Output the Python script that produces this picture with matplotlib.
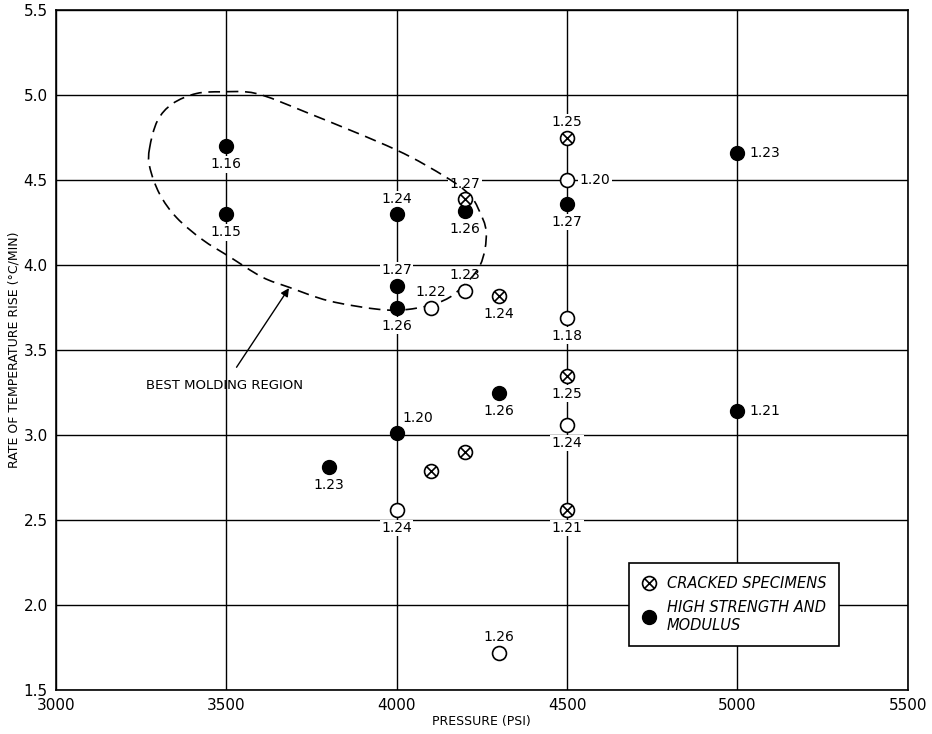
import numpy as np
import matplotlib
matplotlib.use('Agg')
import matplotlib.pyplot as plt
from matplotlib.path import Path
from matplotlib.patches import PathPatch
from matplotlib.lines import Line2D

# cracked specimens (circle with x)
cracked_x = [4200, 4300, 4500, 4500, 4500, 4100, 4200]
cracked_y = [4.39, 3.82, 4.75, 3.35, 2.56, 2.79, 2.90]
cracked_lab = ['1.27', '1.24', '1.25', '1.25', '1.21', '', '']
cracked_pos = ['above', 'below', 'above', 'below', 'below', '', '']

# high strength and modulus (filled circle)
filled_x = [3500, 3500, 4000, 4000, 4000, 4200, 4500, 5000, 5000, 4300, 4000, 3800]
filled_y = [4.70, 4.30, 4.30, 3.88, 3.75, 4.32, 4.36, 4.66, 3.14, 3.25, 3.01, 2.81]
filled_lab = ['1.16', '1.15', '1.24', '1.27', '1.26', '1.26', '1.27', '1.23', '1.21', '1.26', '1.20', '1.23']
filled_pos = ['below', 'below', 'above', 'above', 'below', 'below', 'below', 'right', 'right', 'below', 'upright', 'below']

# other specimens (open circle)
open_x = [4100, 4200, 4500, 4500, 4500, 4000, 4300]
open_y = [3.75, 3.85, 4.50, 3.69, 3.06, 2.56, 1.72]
open_lab = ['1.22', '1.23', '1.20', '1.18', '1.24', '1.24', '1.26']
open_pos = ['above', 'above', 'right', 'below', 'below', 'below', 'above']

# outline of the best molding region
region_x = [3275, 3275, 3304, 3354, 3430, 3509, 3605, 3684, 3801, 3947, 4035,
            4123, 4181, 4245, 4263, 4240, 4211, 4143, 3997, 3734, 3588, 3488,
            3412, 3342, 3298]
region_y = [4.69, 4.58, 4.42, 4.28, 4.15, 4.05, 3.93, 3.87, 3.79, 3.74, 3.74,
            3.78, 3.85, 4.00, 4.19, 4.33, 4.42, 4.52, 4.68, 4.90, 5.01, 5.02,
            5.01, 4.95, 4.85]

x_ticks = [3000, 3500, 4000, 4500, 5000, 5500]
y_ticks = [1.5, 2.0, 2.5, 3.0, 3.5, 4.0, 4.5, 5.0, 5.5]

# marker: circle with an x inside
circ = Path.unit_circle()
d = 0.62
xpath = Path([(-d, -d), (d, d), (-d, d), (d, -d)],
             [Path.MOVETO, Path.LINETO, Path.MOVETO, Path.LINETO])
cross_circle = Path.make_compound_path(circ, xpath)

offsets = {'above': ((0, 11), 'center'), 'below': ((0, -13), 'center'),
           'right': ((9, 0), 'left'), 'upright': ((15, 11), 'center')}

fig = plt.figure(figsize=(9.32, 7.34), dpi=100)
ax = fig.add_axes([0.060, 0.060, 0.914, 0.926])
ax.set_xlim(3000, 5500)
ax.set_ylim(1.5, 5.5)
ax.set_xticks(x_ticks)
ax.set_yticks(y_ticks)
ax.set_xticklabels([str(t) for t in x_ticks])
ax.set_yticklabels(['%.1f' % t for t in y_ticks])
ax.tick_params(length=0, labelsize=11, pad=6)
ax.grid(True, color='black', linewidth=1.0)
ax.set_axisbelow(True)
for s in ax.spines.values():
    s.set_linewidth(1.2)

ax.set_xlabel('PRESSURE (PSI)', fontsize=9, labelpad=1)
ax.set_ylabel('RATE OF TEMPERATURE RISE (°C/MIN)', fontsize=9, labelpad=2)

ax.plot(open_x, open_y, 'o', ms=10, mfc='white', mec='black', mew=1.2, zorder=4)
ax.plot(filled_x, filled_y, 'o', ms=10, mfc='black', mec='black', zorder=4)
ax.plot(cracked_x, cracked_y, ls='none', marker=cross_circle, ms=10, mfc='white',
        mec='black', mew=1.2, zorder=4)


def label(xs, ys, labs, poss):
    for x, y, t, p in zip(xs, ys, labs, poss):
        if t == '':
            continue
        off, ha = offsets[p]
        ax.annotate(t, (x, y), xytext=off, textcoords='offset points', ha=ha,
                    va='center', fontsize=10, zorder=3,
                    bbox=dict(boxstyle='square,pad=0.1', fc='white', ec='none'))


label(cracked_x, cracked_y, cracked_lab, cracked_pos)
label(filled_x, filled_y, filled_lab, filled_pos)
label(open_x, open_y, open_lab, open_pos)

# closed smooth dashed curve (catmull-rom as bezier segments)
pts = np.column_stack([region_x, region_y]).astype(float)
n = len(pts)
verts = [pts[0]]
codes = [Path.MOVETO]
for i in range(n):
    p0, p1, p2, p3 = pts[i - 1], pts[i], pts[(i + 1) % n], pts[(i + 2) % n]
    verts += [p1 + (p2 - p0) / 6, p2 - (p3 - p1) / 6, p2]
    codes += [Path.CURVE4] * 3
ax.add_patch(PathPatch(Path(verts, codes), fill=False, ls=(0, (7, 4)), lw=1.2,
                       ec='black', zorder=3))

ax.annotate('BEST MOLDING REGION', xy=(3684, 3.865), xytext=(3494, 3.29),
            ha='center', va='center', fontsize=9.5,
            arrowprops=dict(arrowstyle='-|>', color='black', lw=1.0,
                            shrinkA=8, shrinkB=0, mutation_scale=12))

handles = [Line2D([], [], ls='none', marker=cross_circle, ms=10, mfc='white',
                  mec='black', mew=1.2),
           Line2D([], [], ls='none', marker='o', ms=10, mfc='black', mec='black')]
leg = ax.legend(handles, ['CRACKED SPECIMENS', 'HIGH STRENGTH AND\nMODULUS'],
                loc='upper left', bbox_to_anchor=(0.664, 0.197), fancybox=False,
                framealpha=1, edgecolor='black', handlelength=1.0,
                handletextpad=0.7, borderpad=0.9, labelspacing=0.6,
                prop={'size': 10.5, 'style': 'italic'})
leg.get_frame().set_linewidth(1.2)
leg.set_zorder(5)

fig.savefig('out.png', dpi=100)
